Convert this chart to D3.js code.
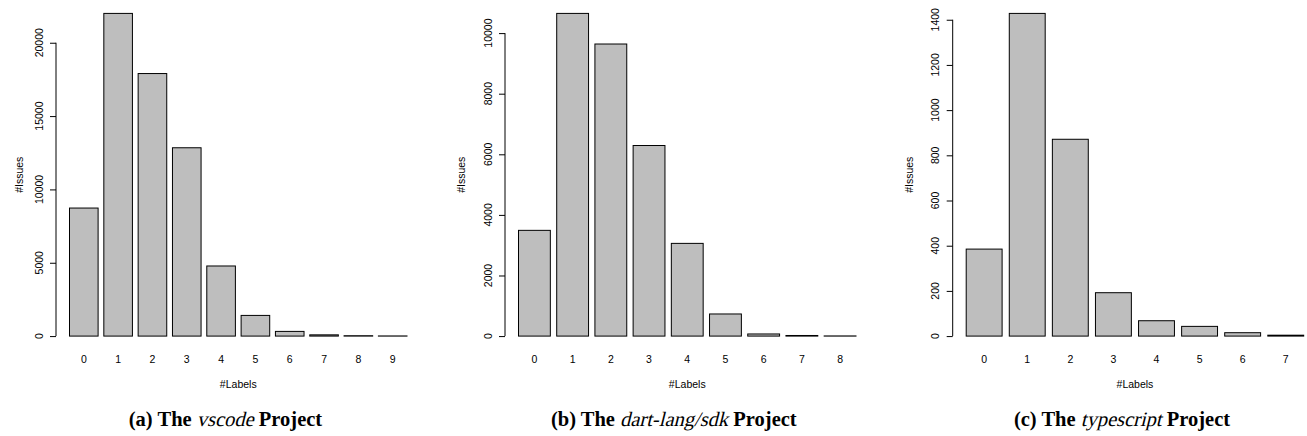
<!DOCTYPE html>
<html>
<head>
<meta charset="utf-8">
<script src="https://cdn.jsdelivr.net/npm/d3@7"></script>
<style>
  body { margin: 0; background: #fff; }
  .tick-label, .axis-title { font-family: "Liberation Sans", Arial, Helvetica, sans-serif; font-size: 10.5px; fill: #000; }
  .caption { font-family: "Liberation Serif", "Times New Roman", serif; font-size: 20.5px; font-weight: bold; fill: #000; }
  .caption.proj { font-weight: normal; font-style: normal; }
</style>
</head>
<body>
<div id="vis"></div>
<script>
// data
const labelsA = ["0", "1", "2", "3", "4", "5", "6", "7", "8", "9"];
const issuesA = [8730, 22000, 17900, 12840, 4780, 1410, 320, 85, 25, 10];
const ticksA = [0, 5000, 10000, 15000, 20000];

const labelsB = ["0", "1", "2", "3", "4", "5", "6", "7", "8"];
const issuesB = [3490, 10650, 9640, 6290, 3060, 730, 70, 20, 5];
const ticksB = [0, 2000, 4000, 6000, 8000, 10000];

const labelsC = ["0", "1", "2", "3", "4", "5", "6", "7"];
const issuesC = [385, 1428, 871, 192, 68, 43, 15, 4];
const ticksC = [0, 200, 400, 600, 800, 1000, 1200, 1400];

const projects = ["vscode", "dart-lang/sdk", "typescript"];
const letters = ["(a)", "(b)", "(c)"];

// frame
const FRAME_WIDTH = 1307;
const FRAME_HEIGHT = 436;
const PLOT_WIDTH = 364.5;
const PLOT_TOP = 0.5;
const PLOT_BOTTOM = 349;
const PANEL_LEFT = [56, 505, 952.7];
const YLAB_OFFSET = [33, 40, 40];
const CAPTION_X = [225.5, 673.8, 1122];
const CAPTION_Y = 426;

const FRAME = d3.select("#vis")
  .append("svg")
    .attr("width", FRAME_WIDTH)
    .attr("height", FRAME_HEIGHT);

const panels = [
  {labels: labelsA, values: issuesA, ticks: ticksA},
  {labels: labelsB, values: issuesB, ticks: ticksB},
  {labels: labelsC, values: issuesC, ticks: ticksC}
];

panels.forEach((p, i) => {
  const left = PANEL_LEFT[i];
  const n = p.values.length;
  const maxV = d3.max(p.values);

  // R barplot style: width 1, space 0.2, 4% axis extension
  const span = 1.2 * n - 0.2;
  const x = d3.scaleBand()
    .domain(p.labels)
    .range([left, left + PLOT_WIDTH])
    .paddingInner(0.2 / 1.2)
    .paddingOuter(0.04 * span / 1.2);

  const y = d3.scaleLinear()
    .domain([-0.04 * maxV, 1.04 * maxV])
    .range([PLOT_BOTTOM, PLOT_TOP]);

  const g = FRAME.append("g");

  // bars
  g.selectAll("rect")
    .data(p.values)
    .enter()
    .append("rect")
      .attr("x", (d, j) => x(p.labels[j]))
      .attr("y", (d) => y(d))
      .attr("width", x.bandwidth())
      .attr("height", (d) => y(0) - y(d))
      .attr("fill", "#bebebe")
      .attr("stroke", "#000")
      .attr("stroke-width", 1);

  // y axis
  const ax = g.append("g")
    .attr("transform", `translate(${left},0)`)
    .call(d3.axisLeft(y).tickValues(p.ticks).tickSize(6).tickSizeOuter(0).tickFormat(""));
  ax.select(".domain")
    .attr("d", `M0,${y(p.ticks[0])}V${y(p.ticks[p.ticks.length - 1])}`);
  ax.selectAll("line, path").attr("stroke", "#000");

  g.selectAll(".ylab")
    .data(p.ticks)
    .enter()
    .append("text")
      .attr("class", "tick-label")
      .attr("text-anchor", "middle")
      .attr("transform", (d) => `translate(${left - 13.5},${y(d)}) rotate(-90)`)
      .text((d) => d);

  // category labels
  g.selectAll(".xlab")
    .data(p.labels)
    .enter()
    .append("text")
      .attr("class", "tick-label")
      .attr("text-anchor", "middle")
      .attr("x", (d) => x(d) + x.bandwidth() / 2)
      .attr("y", 362.5)
      .text((d) => d);

  // axis titles
  g.append("text")
    .attr("class", "axis-title")
    .attr("text-anchor", "middle")
    .attr("x", left + PLOT_WIDTH / 2)
    .attr("y", 387.5)
    .text("#Labels");

  g.append("text")
    .attr("class", "axis-title")
    .attr("text-anchor", "middle")
    .attr("transform", `translate(${left - YLAB_OFFSET[i]},${(PLOT_TOP + PLOT_BOTTOM) / 2}) rotate(-90)`)
    .text("#Issues");

  // caption: bold pieces with a slanted serif project name in between
  const c1 = g.append("text").attr("class", "caption").text(letters[i] + " The\u00a0");
  const c2 = g.append("text").attr("class", "caption proj").text(projects[i]);
  const c3 = g.append("text").attr("class", "caption").text("\u00a0Project");
  const w1 = c1.node().getComputedTextLength();
  const w2 = c2.node().getComputedTextLength();
  const w3 = c3.node().getComputedTextLength();
  const x0 = CAPTION_X[i] - (w1 + w2 + w3) / 2;
  c1.attr("x", x0).attr("y", CAPTION_Y);
  c2.attr("transform", `translate(${x0 + w1},${CAPTION_Y}) skewX(-14)`);
  c3.attr("x", x0 + w1 + w2).attr("y", CAPTION_Y);
});
</script>
</body>
</html>
